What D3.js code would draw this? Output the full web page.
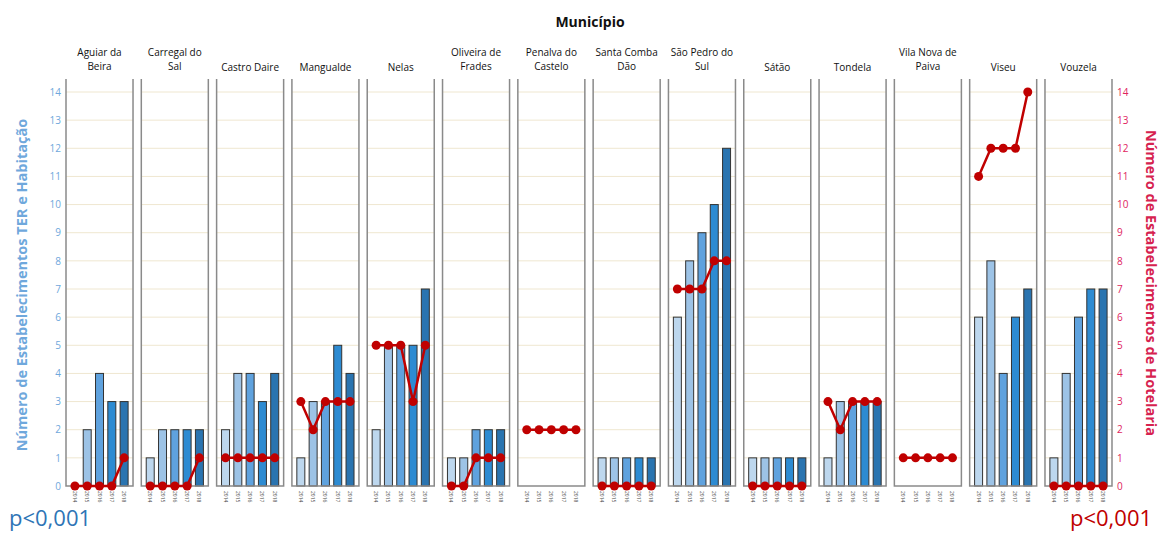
<!DOCTYPE html>
<html>
<head>
<meta charset="utf-8">
<script src="https://cdn.jsdelivr.net/npm/d3@7"></script>
<style>
  body { margin: 0; background: #fff; }
  text { font-family: "Open Sans", sans-serif; }
</style>
</head>
<body>
<div id="chart"></div>
<script>
  var width = 1160,
      height = 533;

  // municipalities (label lines) and the years shown in each panel
  var municipios = [
    ["Aguiar da", "Beira"], ["Carregal do", "Sal"], ["Castro Daire"], ["Mangualde"],
    ["Nelas"], ["Oliveira de", "Frades"], ["Penalva do", "Castelo"], ["Santa Comba", "Dão"],
    ["São Pedro do", "Sul"], ["Sátão"], ["Tondela"], ["Vila Nova de", "Paiva"],
    ["Viseu"], ["Vouzela"]
  ];
  var anos = ["2014", "2015", "2016", "2017", "2018"];

  // bars: TER e Habitação, 2014..2018
  var terHab = [
    [0, 2, 4, 3, 3], [1, 2, 2, 2, 2], [2, 4, 4, 3, 4], [1, 3, 3, 5, 4],
    [2, 5, 5, 5, 7], [1, 1, 2, 2, 2], [0, 0, 0, 0, 0], [1, 1, 1, 1, 1],
    [6, 8, 9, 10, 12], [1, 1, 1, 1, 1], [1, 3, 3, 3, 3], [0, 0, 0, 0, 0],
    [6, 8, 4, 6, 7], [1, 4, 6, 7, 7]
  ];
  // line: Hotelaria, 2014..2018
  var hotelaria = [
    [0, 0, 0, 0, 1], [0, 0, 0, 0, 1], [1, 1, 1, 1, 1], [3, 2, 3, 3, 3],
    [5, 5, 5, 3, 5], [0, 0, 1, 1, 1], [2, 2, 2, 2, 2], [0, 0, 0, 0, 0],
    [7, 7, 7, 8, 8], [0, 0, 0, 0, 0], [3, 2, 3, 3, 3], [1, 1, 1, 1, 1],
    [11, 12, 12, 12, 14], [0, 0, 0, 0, 0]
  ];
  var yTicks = d3.range(0, 15);

  var barColors = ["#bdd7ee", "#9dc3e6", "#5fa2de", "#2d8bd2", "#2a74b0"];

  var svg = d3.select("#chart").append("svg")
      .attr("width", width)
      .attr("height", height);

  var x0 = d3.scaleBand()
      .domain(d3.range(municipios.length))
      .range([66, 1112])
      .paddingInner(0.11)
      .paddingOuter(0);

  var x1 = d3.scaleBand()
      .domain(anos)
      .range([0, x0.bandwidth()])
      .paddingInner(0.35)
      .paddingOuter(0.4);

  var y = d3.scaleLinear()
      .domain([0, 14])
      .range([486, 92]);

  var color = d3.scaleOrdinal().domain(anos).range(barColors);

  // title
  svg.append("text")
      .attr("x", 590)
      .attr("y", 27)
      .attr("text-anchor", "middle")
      .attr("font-size", 14)
      .attr("font-weight", "bold")
      .attr("fill", "#111")
      .text("Município");

  var panel = svg.selectAll("g.panel")
    .data(municipios)
    .enter().append("g")
      .attr("class", "panel")
      .attr("transform", function(d, i) { return "translate(" + x0(i) + ",0)"; });

  // gridlines
  panel.selectAll("line.grid")
    .data(yTicks.slice(1))
    .enter().append("line")
      .attr("class", "grid")
      .attr("x1", 0)
      .attr("x2", x0.bandwidth())
      .attr("y1", function(d) { return y(d); })
      .attr("y2", function(d) { return y(d); })
      .attr("stroke", "#efe7d0")
      .attr("stroke-width", 1);

  // panel labels
  panel.append("text")
      .attr("text-anchor", "middle")
      .attr("font-size", 10)
      .attr("fill", "#111")
      .attr("x", x0.bandwidth() / 2)
      .attr("y", function(d) { return d.length > 1 ? 56 : 71; })
    .selectAll("tspan")
    .data(function(d) { return d; })
    .enter().append("tspan")
      .attr("x", x0.bandwidth() / 2)
      .attr("dy", function(d, i) { return i ? 14 : 0; })
      .text(function(d) { return d; });

  // bars
  panel.selectAll("rect.bar")
    .data(function(d, i) {
      return terHab[i].map(function(v, j) { return { ano: anos[j], v: v }; });
    })
    .enter().filter(function(d) { return d.v > 0; }).append("rect")
      .attr("class", "bar")
      .attr("x", function(d) { return x1(d.ano); })
      .attr("width", x1.bandwidth())
      .attr("y", function(d) { return y(d.v); })
      .attr("height", function(d) { return y(0) - y(d.v); })
      .attr("fill", function(d) { return color(d.ano); })
      .attr("stroke", "#333")
      .attr("stroke-width", 1);

  // year tick labels (tiny, rotated)
  panel.selectAll("text.ano")
    .data(anos)
    .enter().append("text")
      .attr("class", "ano")
      .attr("font-size", 5)
      .attr("fill", "#444")
      .attr("transform", function(d) {
        return "translate(" + (x1(d) + x1.bandwidth() / 2 - 2) + ",491) rotate(90)";
      })
      .text(function(d) { return d; });

  // panel frame (left, right, bottom)
  panel.append("path")
      .attr("d", function() {
        var w = x0.bandwidth();
        return "M0,79V" + y(0) + "H" + w + "V79";
      })
      .attr("fill", "none")
      .attr("stroke", "#8a8a8a")
      .attr("stroke-width", 1.5);

  // hotelaria line + dots
  var line = d3.line()
      .x(function(d) { return x1(d.ano) + x1.bandwidth() / 2; })
      .y(function(d) { return y(d.v); });

  panel.append("path")
      .datum(function(d, i) {
        return hotelaria[i].map(function(v, j) { return { ano: anos[j], v: v }; });
      })
      .attr("d", line)
      .attr("fill", "none")
      .attr("stroke", "#c00000")
      .attr("stroke-width", 2.5);

  panel.selectAll("circle")
    .data(function(d, i) {
      return hotelaria[i].map(function(v, j) { return { ano: anos[j], v: v }; });
    })
    .enter().append("circle")
      .attr("cx", function(d) { return x1(d.ano) + x1.bandwidth() / 2; })
      .attr("cy", function(d) { return y(d.v); })
      .attr("r", 4.5)
      .attr("fill", "#c00000");

  // left axis
  var gl = svg.append("g")
      .attr("transform", "translate(66,0)")
      .call(d3.axisLeft(y).tickValues(yTicks).tickSize(0).tickPadding(5));
  gl.select(".domain").remove();
  gl.selectAll("text")
      .attr("font-family", "'Open Sans', sans-serif")
      .attr("font-size", 10)
      .attr("fill", "#6fa8dc");

  // right axis
  var gr = svg.append("g")
      .attr("transform", "translate(1112,0)")
      .call(d3.axisRight(y).tickValues(yTicks).tickSize(0).tickPadding(5));
  gr.select(".domain").remove();
  gr.selectAll("text")
      .attr("font-family", "'Open Sans', sans-serif")
      .attr("font-size", 10)
      .attr("fill", "#e0245e");

  // axis titles
  svg.append("text")
      .attr("transform", "translate(27,285) rotate(-90)")
      .attr("text-anchor", "middle")
      .attr("font-size", 14.5)
      .attr("font-weight", "bold")
      .attr("fill", "#6fa8dc")
      .text("Número de Estabelecimentos TER e Habitação");

  svg.append("text")
      .attr("transform", "translate(1146,283) rotate(90)")
      .attr("text-anchor", "middle")
      .attr("font-size", 14.5)
      .attr("font-weight", "bold")
      .attr("fill", "#d6224f")
      .text("Número de Estabelecimentos de Hotelaria");

  // significance notes
  svg.append("text")
      .attr("x", 9)
      .attr("y", 526)
      .attr("font-size", 22)
      .attr("fill", "#2e75b6")
      .text("p<0,001");

  svg.append("text")
      .attr("x", 1070)
      .attr("y", 526)
      .attr("font-size", 22)
      .attr("fill", "#c00000")
      .text("p<0,001");
</script>
</body>
</html>
